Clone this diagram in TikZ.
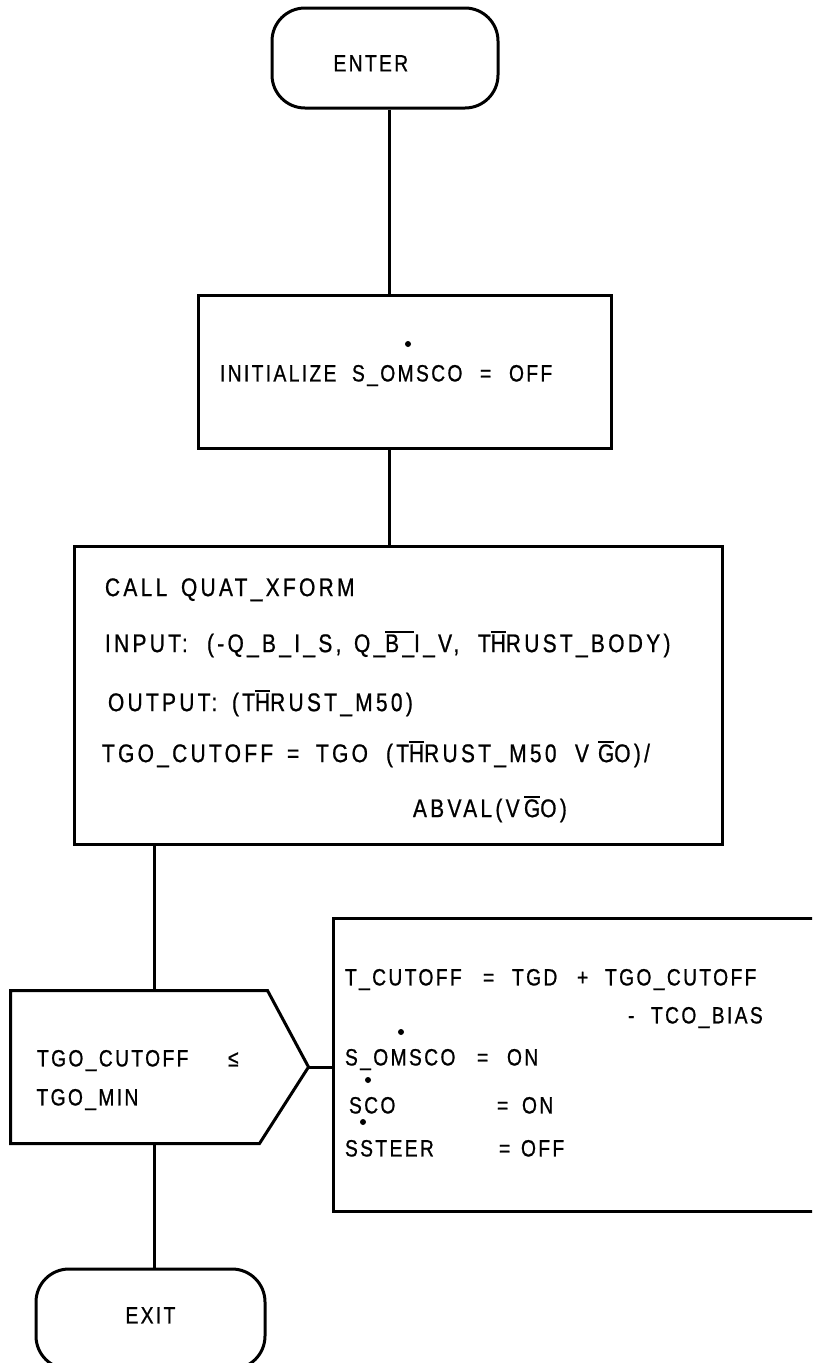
\documentclass[tikz,border=0pt]{standalone}
\usepackage{fontspec}
\newfontfamily\ff{Liberation Sans}[FakeStretch=0.82,LetterSpace=10,FakeBold=0.8]
\newfontfamily\fb{Liberation Sans}[FakeStretch=0.82,LetterSpace=13,FakeBold=0.8]
\newcommand\putat[2]{\makebox[0pt][l]{\hspace*{#1pt}#2}}
\newcommand\ob[1]{\setbox0\hbox{#1}\rlap{\raisebox{19pt}{\rule{\wd0}{2.4pt}}}\box0}
\begin{document}
\begin{tikzpicture}[x=1pt,y=-1pt,line width=3pt,
  term/.style={draw,rounded corners=33pt,minimum height=100pt,inner sep=0pt},
  box/.style={draw,rectangle,inner sep=0pt},
  txt/.style={anchor=base west,inner sep=0pt,font=\ff\fontsize{23.5}{28}\selectfont},
  btxt/.style={anchor=base west,inner sep=0pt,font=\fb\fontsize{25.5}{30}\selectfont},
  sdot/.style={fill=black,draw=none}]
\useasboundingbox (0,0) rectangle (812,1363);
\clip (0,0) rectangle (812,1363);
% shapes
\node[term,minimum width=226pt] (enter) at (385,58) {};
\node[box,minimum width=413pt,minimum height=153pt] (init) at (404.5,371.5) {};
\node[box,minimum width=648pt,minimum height=298pt] (calc) at (398,695) {};
\node[inner sep=0pt,minimum width=295pt,minimum height=150pt] (dec) at (159.5,1067) {};
\draw (dec.north west) -- ([xshift=-41pt]dec.north east) -- (dec.east)
      -- ([xshift=-49pt]dec.south east) -- (dec.south west) -- cycle;
\node[box,minimum width=487pt,minimum height=293pt] (act) at (576.5,1064.5) {};
\node[term,minimum width=229pt] (exit) at (150.5,1319) {};
% connectors
\coordinate (c0) at (389,0);
\coordinate (c1) at (154,0);
\draw (enter.south -| c0) -- (init.north -| c0);
\draw (init.south -| c0) -- (calc.north -| c0);
\draw (calc.south -| c1) -- (dec.north -| c1);
\draw (dec.east) -- (dec.east -| act.west);
\draw (dec.south -| c1) -- (exit.north -| c1);
% texts
\node[txt] (tenter) at (332,71.4) {ENTER};
\node[txt] (tinit) at (218,381.4) {\putat{0}{INITIALIZE}\putat{132}{S\_OMSCO}\putat{260}{=}\putat{289}{OFF}};
\fill[sdot] (408,344) circle[radius=3pt];
\node[btxt] (tcall) at (103,596.1) {\putat{0}{CALL}\putat{76}{QUAT\_XFORM}};
\node[btxt] (tinput) at (103,652.1) {\putat{0}{INPUT:}\putat{102}{(-Q\_B\_I\_S,}\putat{249}{Q\_\ob{B\_}I\_V,}\putat{373}{T\ob{H}RUST\_BODY)}};
\node[btxt] (toutput) at (106,711.1) {\putat{0}{OUTPUT:}\putat{124}{(T\ob{H}RUST\_M50)}};
\node[btxt] (ttgo) at (100,762.1) {\putat{0}{TGO\_CUTOFF}\putat{185}{=}\putat{214}{TGO}\putat{284}{(T\ob{H}RUST\_M50}\putat{473}{V}\putat{496}{\ob{G}O)/}};
\node[btxt] (tabval) at (411,817.1) {\putat{0}{ABVAL(V}\putat{111}{\ob{G}O)}};
\node[txt] (tdec1) at (35,1066.4) {\putat{0}{TGO\_CUTOFF}\putat{191}{≤}};
\node[txt] (tdec2) at (35,1105.4) {TGO\_MIN};
\node[txt] (tr1) at (343,985.4) {\putat{0}{T\_CUTOFF}\putat{138}{=}\putat{167}{TGD}\putat{232}{+}\putat{260}{TGO\_CUTOFF}};
\node[txt] (tr2) at (626,1023.4) {\putat{0}{-}\putat{23}{TCO\_BIAS}};
\node[txt] (tr3) at (343,1065.4) {\putat{0}{S\_OMSCO}\putat{132}{=}\putat{162}{ON}};
\node[txt] (tr4) at (347,1113.4) {\putat{0}{SCO}\putat{148}{=}\putat{173}{ON}};
\node[txt] (tr5) at (343,1156.4) {\putat{0}{SSTEER}\putat{154}{=}\putat{176}{OFF}};
\fill[sdot] (401,1032) circle[radius=3pt];
\fill[sdot] (368,1080) circle[radius=3pt];
\fill[sdot] (363,1122) circle[radius=3pt];
\node[txt] (texit) at (124,1323.4) {EXIT};
\end{tikzpicture}
\end{document}
